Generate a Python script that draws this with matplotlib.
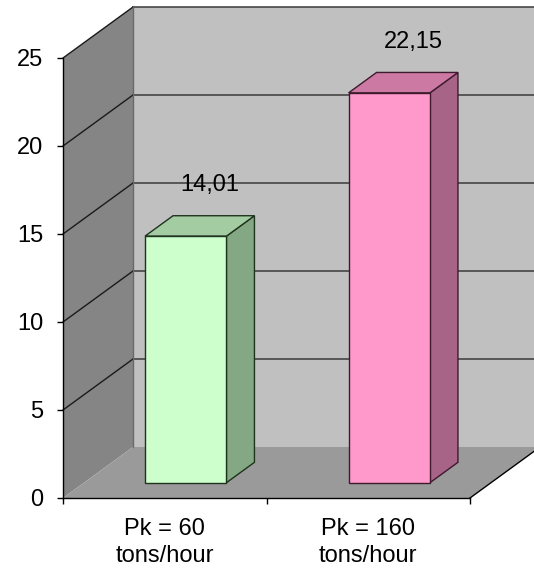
import matplotlib
matplotlib.use("Agg")
import matplotlib.pyplot as plt
from matplotlib.patches import Polygon
from matplotlib.lines import Line2D
from matplotlib.transforms import IdentityTransform

# ---- data ----
categories = ["Pk = 60\ntons/hour", "Pk = 160\ntons/hour"]
values = [14.01, 22.15]
value_labels = ["14,01", "22,15"]
yticks = [0, 5, 10, 15, 20, 25]

front_colors = ["#ccffcc", "#ff99cc"]
top_colors = ["#a3cca3", "#cc7aa3"]
side_colors = ["#84a884", "#a86487"]
edge_colors = ["#1f331f", "#3d1a2c"]

plt.rcParams['font.family'] = ['Liberation Sans', 'DejaVu Sans']
FS = 17

W, H = 534, 568
fig = plt.figure(figsize=(W / 100, H / 100), dpi=100)
ax = fig.add_axes([63 / W, 70 / H, 407 / W, 440 / H])
ax.set_xlim(-0.5, len(categories) - 0.5)
ax.set_ylim(0, 25)
ax.patch.set_visible(False)
for s in ["top", "right"]:
    ax.spines[s].set_visible(False)
for s in ["left", "bottom"]:
    ax.spines[s].set_color("black")
    ax.spines[s].set_linewidth(1.0)
    ax.spines[s].set_zorder(10)

ax.set_yticks(yticks)
ax.set_yticklabels([str(t) for t in yticks], fontsize=FS)
ax.tick_params(axis="y", direction="out", length=4.3, width=1, pad=10)
ax.set_xticks([-0.5, 0.5, 1.5])
ax.set_xticklabels(["", "", ""])
ax.set_xticks(range(len(categories)), minor=True)
ax.set_xticklabels(categories, minor=True, fontsize=FS, linespacing=1.3)
ax.tick_params(axis="x", which="major", direction="out", length=4.3, width=1)
ax.tick_params(axis="x", which="minor", length=0, pad=14.5)

fig.canvas.draw()

DX, DY = 70, 51  # full depth offset in display pixels
ident = IdentityTransform()


def P(x, y, d):
    px, py = ax.transData.transform((x, y))
    return (px + d * DX, py + d * DY)


def poly(pts, fc, ec="none", lw=0, z=1):
    ax.add_patch(Polygon(pts, closed=True, facecolor=fc, edgecolor=ec,
                         linewidth=lw, transform=ident, clip_on=False,
                         zorder=z))


def line(p0, p1, color, lw=1.0, z=2):
    ax.add_line(Line2D([p0[0], p1[0]], [p0[1], p1[1]], color=color,
                       linewidth=lw, transform=ident, clip_on=False,
                       zorder=z))


xl, xr = -0.5, len(categories) - 0.5
ymax = yticks[-1]

# walls and floor
poly([P(xl, 0, 1), P(xr, 0, 1), P(xr, ymax, 1), P(xl, ymax, 1)], "#c0c0c0", z=1)
poly([P(xl, 0, 0), P(xl, ymax, 0), P(xl, ymax, 1), P(xl, 0, 1)], "#858585", z=1)
poly([P(xl, 0, 0), P(xr, 0, 0), P(xr, 0, 1), P(xl, 0, 1)], "#9a9a9a", z=1.5)

# gridlines
for v in yticks[1:]:
    line(P(xl, v, 1), P(xr, v, 1), "#3a3a3a", 1.1, 2)
    line(P(xl, v, 0), P(xl, v, 1), "#1a1a1a", 1.0, 2)
line(P(xl, 0, 1), P(xl, ymax, 1), "#6a6a6a", 1.0, 2)
line(P(xr, 0, 0), P(xr, 0, 1), "black", 1.0, 2)

# bars
bw = 0.2
d0, d1 = 0.3, 0.7
for i, v in enumerate(values):
    x0, x1 = i - bw, i + bw
    ec = edge_colors[i]
    poly([P(x1, 0, d0), P(x1, 0, d1), P(x1, v, d1), P(x1, v, d0)],
         side_colors[i], ec, 1.0, 3)
    poly([P(x0, v, d0), P(x1, v, d0), P(x1, v, d1), P(x0, v, d1)],
         top_colors[i], ec, 1.0, 3)
    poly([P(x0, 0, d0), P(x1, 0, d0), P(x1, v, d0), P(x0, v, d0)],
         front_colors[i], ec, 1.0, 3)
    lx, ly = P(i, v, 0.5)
    ax.text(lx + 10, ly + 41, value_labels[i], transform=ident,
            ha="center", va="center", fontsize=FS, zorder=5)

fig.savefig("out.png", dpi=100)
